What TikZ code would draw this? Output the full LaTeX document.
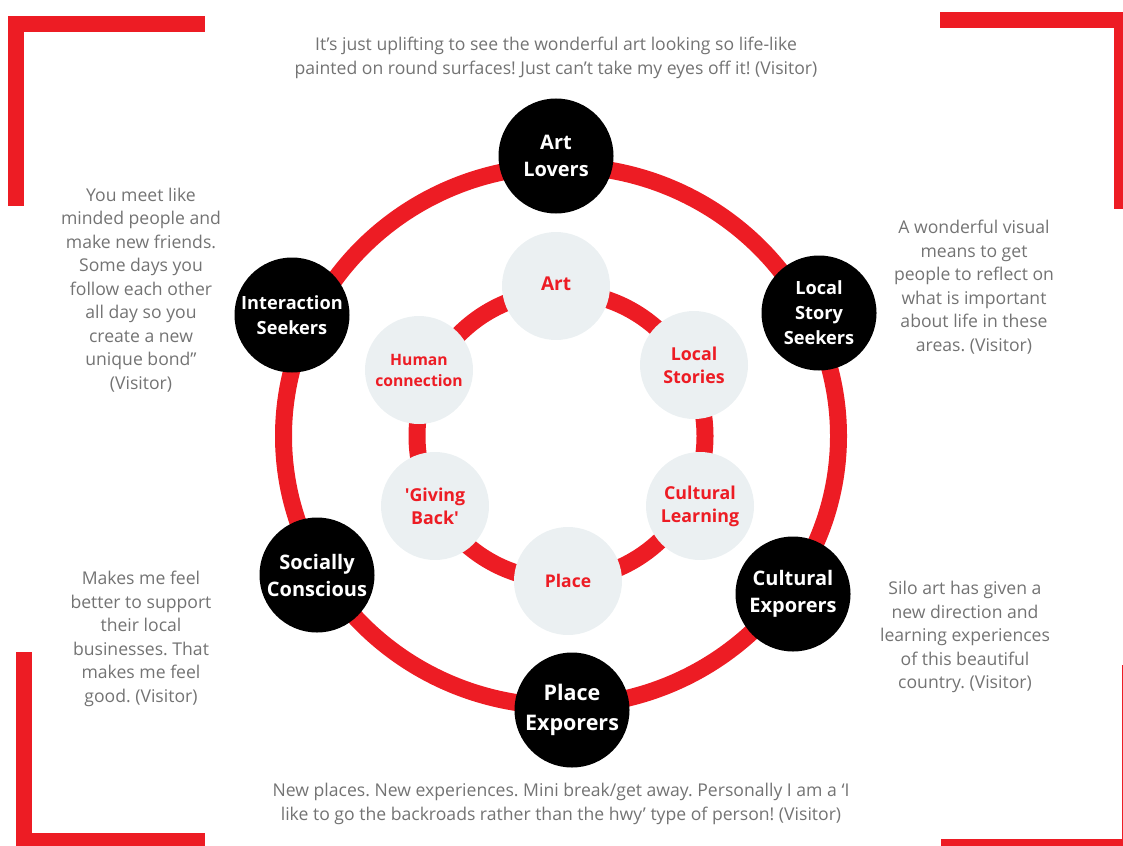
\documentclass[tikz,border=0pt]{standalone}
\usepackage{fontspec}
\setmainfont{Open Sans}
\frenchspacing
\definecolor{ringred}{HTML}{ED1C24}
\definecolor{pale}{HTML}{EBF0F2}
\definecolor{quote}{HTML}{737373}
\tikzset{
  outernode/.style={circle, fill=black, minimum size=115pt, inner sep=0pt, text=white, font=\bfseries\fontsize{20}{27}\selectfont, align=center},
  innernode/.style={circle, fill=pale, minimum size=108pt, inner sep=0pt, text=ringred, font=\bfseries\fontsize{17.8}{23}\selectfont, align=center},
  quotetext/.style={text=quote, font=\fontsize{17.6}{23.5}\selectfont, align=center, inner sep=0pt},
  ring/.style={draw=ringred, line width=17pt},
  bracket/.style={fill=ringred}
}
\begin{document}
\begin{tikzpicture}[x=1pt,y=-1pt]
\clip (0,0) rectangle (1123,845);
\useasboundingbox (0,0) rectangle (1123,845);
% corner brackets
\fill[bracket] (8,16) rectangle (205,32);
\fill[bracket] (8,16) rectangle (24,206);
\fill[bracket] (940,12) rectangle (1130,28);
\fill[bracket] (1114,12) rectangle (1130,209);
\fill[bracket] (16,652) rectangle (32,850);
\fill[bracket] (16,833) rectangle (205,850);
\fill[bracket] (1122,665) rectangle (1140,850);
\fill[bracket] (941,839) rectangle (1140,850);
% rings
\coordinate (c) at (561,436);
\draw[ring] (c) ellipse [x radius=277.5, y radius=270];
\draw[ring] (c) circle [radius=144];
% outer nodes
\node[outernode] (al) at (556,156) {Art\\Lovers};
\node[outernode, font=\bfseries\fontsize{18.2}{25}\selectfont] (ls) at (819,313) {Local\\Story\\Seekers};
\node[outernode] (ce) at (793,594) {Cultural\\Exporers};
\node[outernode, font=\bfseries\fontsize{21.5}{30}\selectfont] (pe) at (572,710) {Place\\Exporers};
\node[outernode] (sc) at (317,575) {Socially\\Conscious};
\node[outernode, font=\bfseries\fontsize{18.2}{25}\selectfont] (is) at (292,315) {Interaction\\Seekers};
% inner nodes
\node[innernode, font=\bfseries\fontsize{19}{23}\selectfont] (art) at (556,286) {\raisebox{5pt}{Art}};
\node[innernode] (lst) at (694,365) {Local\\Stories};
\node[innernode] (cl) at (700,506) {Cultural\\Learning};
\node[innernode, font=\bfseries\fontsize{17.5}{23}\selectfont] (pl) at (568,581) {Place};
\node[innernode] (gb) at (435,506) {\textquotesingle Giving\\Back\textquotesingle};
\node[innernode, font=\bfseries\fontsize{15.7}{21}\selectfont] (hc) at (419,370) {Human\\connection};
% quotes
\node[quotetext] (q1) at (556,58) {It’s just uplifting to see the wonderful art looking so life-like\\painted on round surfaces! Just can’t take my eyes off it! (Visitor)};
\node[quotetext] (q2) at (141,290) {You meet like\\minded people and\\make new friends.\\Some days you\\follow each other\\all day so you\\create a new\\unique bond”\\(Visitor)};
\node[quotetext] (q3) at (974,287) {A wonderful visual\\means to get\\people to reflect on\\what is important\\about life in these\\areas. (Visitor)};
\node[quotetext] (q4) at (141,639) {Makes me feel\\better to support\\their local\\businesses. That\\makes me feel\\good. (Visitor)};
\node[quotetext] (q5) at (965,637) {Silo art has given a\\new direction and\\learning experiences\\of this beautiful\\country. (Visitor)};
\node[quotetext] (q6) at (561,804) {New places. New experiences. Mini break/get away. Personally I am a ‘I\\like to go the backroads rather than the hwy’ type of person! (Visitor)};
\end{tikzpicture}
\end{document}
